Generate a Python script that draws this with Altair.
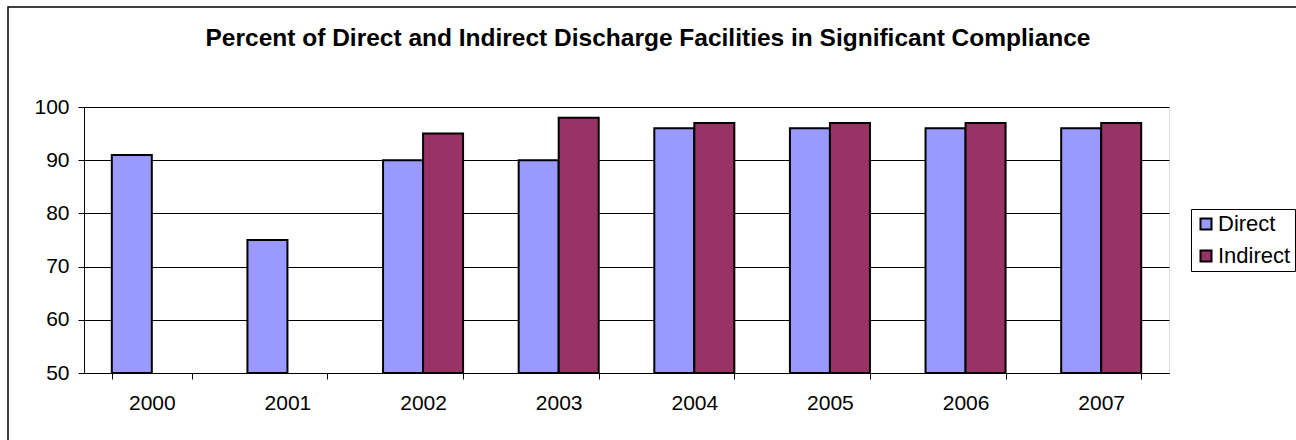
import altair as alt
import pandas as pd

years = ["2000", "2001", "2002", "2003", "2004", "2005", "2006", "2007"]
direct = [91, 75, 90, 90, 96, 96, 96, 96]
indirect = [None, None, 95, 98, 97, 97, 97, 97]
series = ["Direct", "Indirect"]
colors = ["#9999FF", "#993366"]
y_ticks = [50, 60, 70, 80, 90, 100]
title_text = "Percent of Direct and Indirect Discharge Facilities in Significant Compliance"

rows = []
for yr, d, i in zip(years, direct, indirect):
    if d is not None:
        rows.append({"Year": yr, "Series": "Direct", "Value": d})
    if i is not None:
        rows.append({"Year": yr, "Series": "Indirect", "Value": i})
df = pd.DataFrame(rows)

FONT = "Liberation Sans"
W, H = 1085, 266

bars = alt.Chart(df).mark_bar(stroke="black", strokeWidth=2, clip=False).encode(
    x=alt.X("Year:N", sort=years,
            scale=alt.Scale(domain=years, paddingInner=0.41, paddingOuter=0.205),
            axis=alt.Axis(title=None, labelAngle=0, tickBand="extent", grid=False,
                          domainColor="#000000", tickColor="#000000", tickSize=6,
                          labelFontSize=21, labelPadding=13, labelColor="#000000",
                          labelFont=FONT)),
    xOffset=alt.XOffset("Series:N", sort=series, scale=alt.Scale(domain=series, paddingInner=0, paddingOuter=0)),
    y=alt.Y("Value:Q", scale=alt.Scale(domain=[50, 100], zero=False, nice=False),
            axis=alt.Axis(title=None, values=y_ticks, grid=True, gridColor="#000000",
                          gridWidth=1, domainColor="#000000", tickColor="#000000",
                          tickSize=6, labelFontSize=21, labelPadding=9,
                          labelColor="#000000", labelFont=FONT)),
    y2=alt.datum(50),
    color=alt.Color("Series:N", scale=alt.Scale(domain=series, range=colors),
                    legend=alt.Legend(title=None, orient="none", legendX=1107, legendY=102,
                                      symbolType="square", symbolSize=121,
                                      symbolStrokeColor="black", symbolStrokeWidth=2,
                                      symbolOpacity=1,
                                      labelFontSize=22, labelFont=FONT, labelColor="#000000",
                                      labelOffset=1, rowPadding=10,
                                      strokeColor="black", fillColor="white",
                                      padding=4)),
)

frame = alt.Chart(pd.DataFrame({"a": [0]}))
border = frame.mark_rect(
    fill=None, stroke="black", strokeWidth=1.5, clip=False
).encode(
    x=alt.value(-76), x2=alt.value(1300), y=alt.value(-100), y2=alt.value(400)
)
title = frame.mark_text(
    font=FONT, fontSize=24.5, fontWeight="bold", color="#000000",
    align="center", baseline="alphabetic", clip=False
).encode(
    x=alt.value(564), y=alt.value(-61), text=alt.value(title_text)
)

chart = alt.layer(border, title, bars).properties(
    width=W, height=H,
    autosize=alt.AutoSizeParams(type="none"),
    padding={"left": 84, "top": 107, "right": 127, "bottom": 67},
).configure_view(
    fill="#C0C0C0", stroke="#808080", strokeWidth=2
).configure(background="white")

chart.save("out.html", embed_options={"renderer": "svg", "actions": False})
